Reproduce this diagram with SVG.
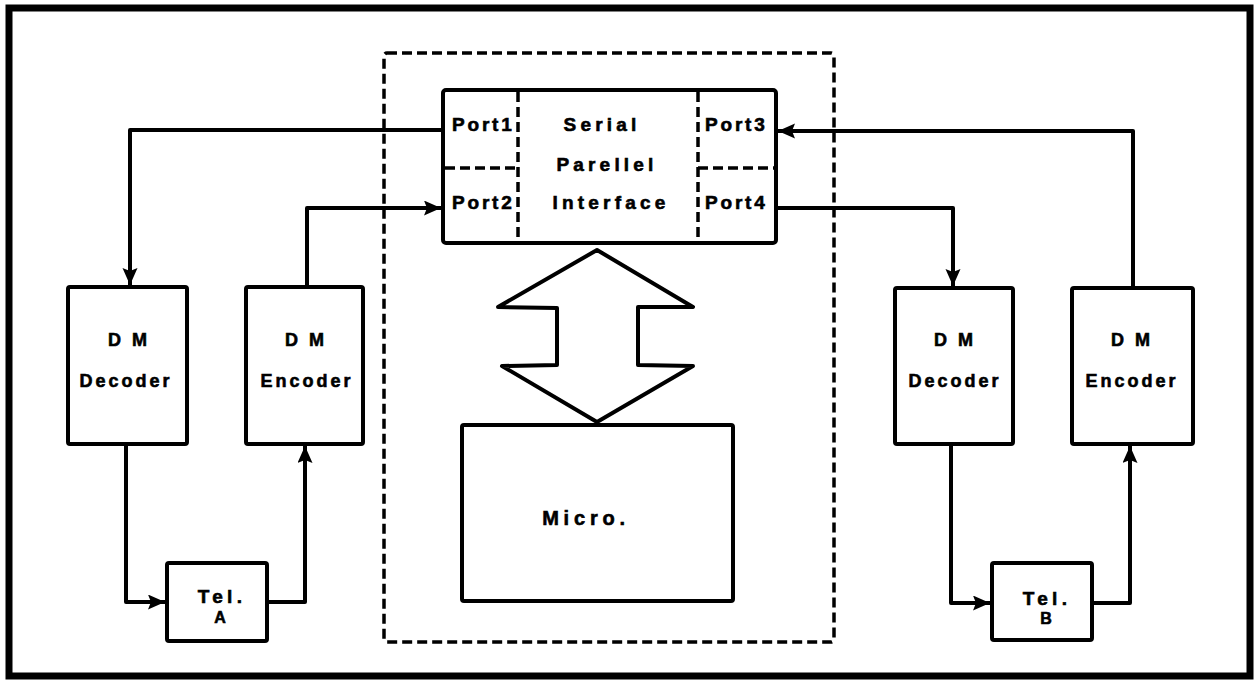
<svg xmlns="http://www.w3.org/2000/svg" width="1255" height="680" viewBox="0 0 1255 680">
<style>
.box{fill:#fff;stroke:#000;stroke-width:4;stroke-linejoin:round}
.dash{fill:none;stroke:#000;stroke-width:3.5;stroke-dasharray:10 5}
.wire{fill:none;stroke:#000;stroke-width:4;stroke-linejoin:round}
text{font-family:"Liberation Sans",Arial,sans-serif;font-weight:bold;fill:#000;stroke:#000;stroke-width:0.6}
.lbl{font-size:18px;letter-spacing:3px;text-anchor:middle}
.port{font-size:19px;letter-spacing:2.8px}
.mid{font-size:19px;letter-spacing:4.2px;text-anchor:middle}
</style>
<defs>
<marker id="ah" markerUnits="userSpaceOnUse" markerWidth="18" markerHeight="16" refX="17" refY="7.5" orient="auto">
<path d="M0,0 L17,7.5 L0,15 L3,7.5 z" fill="#000"/>
</marker>
</defs>
<rect x="9" y="8" width="1241" height="668" fill="#fff" stroke="#000" stroke-width="7"/>
<g id="micro-boundary">
<rect class="dash" x="384" y="53" width="450" height="589" rx="3"/>
</g>
<g id="serial-interface">
<rect class="box" x="443" y="90" width="333" height="153" rx="3"/>
<line class="dash" x1="518" y1="92" x2="518" y2="241"/>
<line class="dash" x1="698" y1="92" x2="698" y2="241"/>
<line class="dash" x1="445" y1="168" x2="518" y2="168"/>
<line class="dash" x1="698" y1="168" x2="774" y2="168"/>
<text class="port" x="452" y="131">Port1</text>
<text class="port" x="452" y="209">Port2</text>
<text class="port" x="705" y="131">Port3</text>
<text class="port" x="705" y="209">Port4</text>
<text class="mid" x="602" y="131">Serial</text>
<text class="mid" x="607" y="171">Parellel</text>
<text class="mid" x="611" y="209">Interface</text>
</g>
<g id="bus-arrow">
<polygon points="597,250 693,307 638,307 638,365 693,366 597,422 502,366 557,365 557,308 498,307" fill="#fff" stroke="#000" stroke-width="4" stroke-linejoin="round"/>
</g>
<g id="micro">
<rect class="box" x="462" y="425" width="271" height="176" rx="2"/>
<text x="586" y="525" style="font-size:20px;letter-spacing:4.8px;text-anchor:middle">Micro.</text>
</g>
<g id="decoder-a">
<rect class="box" x="68" y="287" width="119" height="157" rx="2"/>
<text class="lbl" x="129" y="346">D M</text>
<text class="lbl" x="126" y="387">Decoder</text>
</g>
<g id="encoder-a">
<rect class="box" x="246" y="287" width="117" height="157" rx="2"/>
<text class="lbl" x="306" y="346">D M</text>
<text class="lbl" x="307" y="387">Encoder</text>
</g>
<g id="tel-a">
<rect class="box" x="167" y="563" width="100" height="78" rx="2"/>
<text x="222" y="603" style="font-size:19px;letter-spacing:4.3px;text-anchor:middle">Tel.</text>
<text x="220" y="623" style="font-size:16px;text-anchor:middle">A</text>
</g>
<g id="decoder-b">
<rect class="box" x="895" y="288" width="118" height="156" rx="2"/>
<text class="lbl" x="955" y="346">D M</text>
<text class="lbl" x="955" y="387">Decoder</text>
</g>
<g id="encoder-b">
<rect class="box" x="1072" y="288" width="121" height="156" rx="2"/>
<text class="lbl" x="1132" y="346">D M</text>
<text class="lbl" x="1132" y="387">Encoder</text>
</g>
<g id="tel-b">
<rect class="box" x="992" y="563" width="100" height="77" rx="2"/>
<text x="1047" y="605" style="font-size:19px;letter-spacing:4.3px;text-anchor:middle">Tel.</text>
<text x="1046" y="624" style="font-size:16px;text-anchor:middle">B</text>
</g>
<g id="connectors">
<path class="wire" d="M443,130 H130 V285" marker-end="url(#ah)"/>
<path class="wire" d="M307,287 V208 H441" marker-end="url(#ah)"/>
<path class="wire" d="M1133,288 V131 H778" marker-end="url(#ah)"/>
<path class="wire" d="M776,208 H953 V286" marker-end="url(#ah)"/>
<path class="wire" d="M126,444 V602 H165" marker-end="url(#ah)"/>
<path class="wire" d="M267,602 H305 V446" marker-end="url(#ah)"/>
<path class="wire" d="M951,444 V603 H990" marker-end="url(#ah)"/>
<path class="wire" d="M1092,603 H1130 V446" marker-end="url(#ah)"/>
</g>
</svg>
